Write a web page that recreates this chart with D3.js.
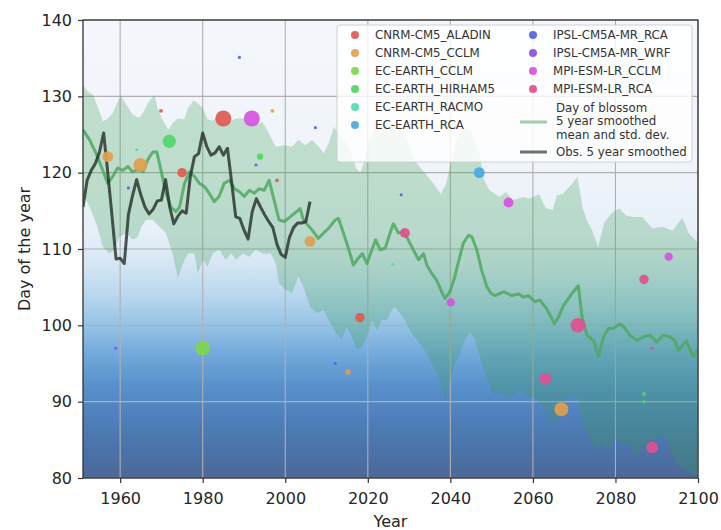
<!DOCTYPE html>
<html>
<head>
<meta charset="utf-8">
<script src="https://cdn.jsdelivr.net/npm/d3@7"></script>
<style>
  body { margin: 0; background: #fff; }
  text { font-family: "DejaVu Sans", sans-serif; }
</style>
</head>
<body>
<script>
// models and their dot colours
const models = ["CNRM-CM5_ALADIN", "CNRM-CM5_CCLM", "EC-EARTH_CCLM", "EC-EARTH_HIRHAM5",
  "EC-EARTH_RACMO", "EC-EARTH_RCA", "IPSL-CM5A-MR_RCA", "IPSL-CM5A-MR_WRF",
  "MPI-ESM-LR_CCLM", "MPI-ESM-LR_RCA"];
const modelColors = ["#df5a50", "#e0a04e", "#7ed64a", "#4fd766", "#52dbb0",
  "#4aa8df", "#5064dc", "#8a50e0", "#d652df", "#e0508f"];

// single model years (year, day, model index, count -> dot size)
const ptYear  = [1957, 1964.9, 1971.9, 1975, 1985, 1991.9, 1993.9, 1992.9, 1998, 1996.9, 1969.9, 1964, 1962, 1958.9, 1980, 1988.9,
  2007.3, 2006, 2012.1, 2015.2, 2018.1, 2026, 2028.1, 2029, 2040.1, 2047, 2054.1, 2063, 2066.9, 2070.9, 2086.9, 2092.9, 2088.9, 2086.9, 2086.9, 2088.8];
const ptDay   = [122.1, 121.0, 124.1, 120.0, 127.1, 127.1, 122.1, 121.0, 119.0, 128.1, 128.1, 123.0, 118.0, 97.0, 97.0, 135.1,
  125.9, 111.0, 95.0, 93.9, 101.0, 108.0, 117.1, 112.1, 103.0, 120.0, 116.1, 93.0, 89.0, 100.0, 106.0, 109.0, 84.0, 91.0, 90.0, 97.0];
const ptModel = [1, 1, 3, 0, 0, 8, 3, 6, 0, 1, 0, 4, 6, 7, 2, 6,
  6, 1, 6, 1, 0, 4, 6, 9, 8, 5, 8, 9, 1, 9, 9, 8, 9, 3, 3, 9];
const ptCount = [12, 20, 18, 9, 26, 26, 4, 1, 1.5, 1.5, 1.5, 1, 1, 1, 22, 1,
  1, 12, 1, 3, 9, 1, 1, 10, 7, 12, 10, 14, 20, 22, 9, 7, 14, 1.5, 1, 1];

// ensemble mean, 5 year smoothed
const meanYear = [1951, 1952.6, 1954.2, 1955.8, 1957, 1958.2, 1959.4, 1960.6, 1961.9, 1963, 1964.3, 1965.5, 1966.7, 1967.9, 1968.9, 1969.9,
  1971.1, 1972.3, 1973.5, 1974.4, 1975.6, 1976.8, 1978, 1979.2, 1980.4, 1981.6, 1982.8, 1984, 1985.2, 1986.5, 1987.7, 1988.9,
  1990.1, 1991.3, 1992.5, 1993.7, 1994.9, 1996.1, 1997.3, 1998.5, 1999.8, 2001.2, 2003.6, 2004.4, 2005.2, 2006.5, 2008, 2009.3,
  2010.5, 2012.1, 2012.9, 2014.1, 2015.3, 2016.5, 2017.7, 2018.7, 2019.8, 2021, 2021.9, 2023, 2024.2, 2025.4, 2026.2, 2027.4,
  2028.6, 2029.8, 2031, 2032.3, 2033.5, 2034.3, 2035.5, 2036.7, 2037.9, 2038.7, 2039.9, 2041.1, 2042.1, 2043.1, 2044.4, 2045.2,
  2046.4, 2047.6, 2048.8, 2049.8, 2050.9, 2052.9, 2054.9, 2056.5, 2057.7, 2058.9, 2060.5, 2061.7, 2063.3, 2065.2, 2066.2, 2067.4,
  2068.6, 2069.8, 2071, 2071.9, 2073.1, 2074.7, 2075.9, 2077.1, 2078.3, 2079.5, 2081.1, 2082.3, 2083.5, 2085.2, 2086.8, 2088.4,
  2090, 2091.6, 2093.2, 2094.4, 2095.2, 2097.2, 2098.8, 2100];
const meanDay = [125.6, 124.3, 122.5, 120.3, 118.6, 119.5, 120.6, 120.3, 120.8, 120.1, 120.4, 120.1, 121.7, 122.7, 122.7, 120.3,
  117.3, 115.5, 114.9, 115.5, 118.6, 120.1, 119.5, 118.6, 118.2, 117.3, 116.2, 116.9, 118.6, 119.0, 117.9, 117.5,
  116.9, 117.7, 117.3, 117.9, 117.7, 119.0, 116.4, 113.8, 113.6, 114.2, 115.3, 113.8, 113.3, 112.5, 111.4, 112.1,
  112.7, 113.8, 114.0, 112.1, 110.1, 107.9, 108.8, 109.4, 108.1, 109.9, 111.2, 109.9, 110.1, 112.1, 113.3, 112.1,
  112.3, 111.2, 109.9, 108.6, 109.4, 107.9, 106.8, 105.9, 104.4, 103.5, 104.4, 106.4, 108.6, 110.7, 111.8, 111.6,
  109.9, 107.2, 105.1, 104.2, 103.9, 104.4, 103.9, 104.1, 103.7, 103.9, 103.1, 103.3, 102.2, 100.2, 101.1, 102.6,
  103.5, 104.4, 105.2, 101.1, 98.7, 98.0, 95.9, 98.5, 99.6, 99.6, 100.2, 99.6, 98.7, 98.0, 98.5, 98.7,
  97.8, 98.7, 98.5, 98.0, 96.7, 98.0, 95.9, 96.8];

// mean + std. dev.
const upperYear = [1951, 1952.2, 1953.4, 1954.6, 1955.8, 1957, 1958.2, 1959.4, 1960.2, 1961.5, 1963.1, 1964.5, 1965.5, 1966.7, 1968.3, 1969.1,
  1970.3, 1971.7, 1972.7, 1974, 1975.5, 1976.4, 1977.8, 1979, 1980, 1981.2, 1982.4, 1983.6, 1985.6, 1988.1, 1990.1, 1992.1,
  1994.5, 1996.1, 1997.7, 1999.8, 2001.6, 2003.2, 2004.8, 2006.5, 2008.1, 2009.3, 2010.5, 2011.8, 2013, 2014.5, 2016, 2017.2,
  2018.2, 2019.2, 2020.5, 2021.5, 2023, 2025, 2027, 2029, 2030.1, 2031.3, 2033.3, 2035.3, 2036.5, 2037.7, 2039, 2040.2,
  2041.4, 2043, 2045, 2047, 2048.2, 2049.5, 2051.9, 2053.5, 2055, 2057.6, 2059.1, 2060.5, 2061.5, 2063, 2064.8, 2065.8,
  2067.2, 2069.6, 2070.8, 2072, 2073, 2074.4, 2075.8, 2077.3, 2079.3, 2080.9, 2082.5, 2084.1, 2086.5, 2089, 2091.4, 2093.8,
  2096.2, 2097.8, 2100];
const upperDay = [131.5, 130.6, 130.2, 128.6, 126.7, 127.1, 127.8, 129.3, 130.1, 128.9, 127.6, 127.2, 127.8, 129.1, 130.2, 128.4,
  126.9, 125.6, 126.5, 127.1, 127.0, 128.4, 129.5, 129.0, 128.5, 127.0, 126.8, 127.3, 126.4, 127.1, 127.1, 126.2,
  126.6, 125.1, 123.4, 123.6, 123.4, 124.3, 123.6, 124.3, 123.4, 122.5, 123.8, 126.0, 125.0, 124.2, 122.5, 120.5,
  120.0, 121.5, 124.5, 125.5, 127.0, 126.0, 126.5, 125.0, 123.4, 121.6, 120.3, 119.0, 118.1, 117.2, 118.6, 121.6,
  124.2, 126.0, 125.5, 122.5, 119.0, 117.7, 116.8, 117.5, 116.4, 116.8, 116.6, 116.9, 117.2, 115.4, 115.1, 117.0,
  117.2, 118.6, 119.5, 115.5, 113.8, 112.4, 110.2, 113.5, 114.8, 115.3, 114.4, 114.2, 114.2, 112.7, 112.9, 112.4,
  114.1, 112.0, 110.8];

// mean - std. dev.
const lowerYear = [1951, 1952.6, 1954.2, 1955.8, 1957.4, 1958.6, 1959.8, 1961.5, 1963.1, 1964.3, 1965.1, 1966.3, 1967.9, 1969.5, 1971.1, 1972.7,
  1974, 1975.2, 1976.4, 1978, 1978.8, 1980, 1981.2, 1982.4, 1984, 1985.6, 1986.9, 1988.1, 1989.7, 1991.3, 1992.9, 1994.5,
  1996.5, 1997.7, 1998.5, 1999.8, 2001.6, 2003.2, 2004.4, 2006, 2007.7, 2009.3, 2010.5, 2012.1, 2013.7, 2014.9, 2016.1, 2017.3,
  2018.5, 2019.8, 2021, 2022.2, 2023.4, 2024.6, 2025.8, 2026.6, 2027.8, 2029, 2030.6, 2031.9, 2033.1, 2034.3, 2035.5, 2036.7,
  2037.9, 2038.7, 2039.9, 2041.1, 2042.3, 2043.5, 2044.8, 2046, 2047.6, 2049.2, 2050.4, 2052.7, 2054.3, 2055.9, 2057.5, 2059.1,
  2060.7, 2062.7, 2064.4, 2065.6, 2066.4, 2068, 2069.6, 2070.8, 2071.6, 2072.8, 2074.4, 2075.6, 2076.9, 2078.1, 2079.3, 2080.5,
  2081.7, 2083.3, 2084.5, 2085.7, 2086.9, 2088.5, 2090.2, 2091.8, 2093, 2094.6, 2096.2, 2097.8, 2100];
const lowerDay = [117.3, 115.5, 113.4, 110.3, 109.4, 109.9, 111.6, 112.1, 111.2, 111.6, 112.9, 113.8, 113.8, 112.9, 112.1, 109.4,
  106.2, 108.1, 109.4, 109.4, 106.8, 108.6, 107.7, 109.4, 109.9, 108.6, 109.4, 108.6, 109.4, 109.0, 109.9, 109.4,
  109.4, 108.1, 105.5, 104.8, 104.2, 106.4, 105.1, 102.4, 101.6, 102.0, 100.7, 99.2, 98.1, 99.8, 98.5, 96.8,
  97.2, 98.5, 100.7, 99.4, 100.7, 100.7, 102.0, 102.4, 101.6, 100.7, 99.0, 98.1, 97.2, 96.3, 95.0, 93.7,
  92.0, 90.2, 92.8, 95.0, 96.3, 98.1, 99.0, 98.1, 95.0, 92.4, 91.0, 91.0, 90.5, 91.2, 91.4, 90.7,
  90.3, 89.4, 87.3, 87.0, 89.0, 90.3, 90.5, 90.7, 88.6, 86.0, 84.7, 83.3, 84.7, 83.3, 84.7, 85.1,
  84.2, 84.7, 82.9, 83.3, 84.2, 85.1, 85.1, 85.5, 84.2, 82.0, 81.2, 80.7, 80.2];

// observations, 5 year smoothed
const obsYear = d3.range(1951, 2007);
const obsDay = [115.5, 119.0, 120.3, 121.2, 122.7, 125.2, 120.0, 114.5, 108.7, 108.8, 108.1, 114.5, 117.0, 119.1, 117.1, 115.5,
  114.6, 115.2, 116.3, 116.4, 119.1, 115.5, 113.3, 114.3, 115.0, 114.7, 119.5, 122.1, 122.5, 125.2, 123.4, 122.3,
  122.6, 123.4, 122.3, 123.2, 118.8, 114.2, 114.0, 112.5, 111.3, 114.9, 116.6, 115.5, 114.5, 113.6, 112.8, 110.6,
  109.3, 108.9, 111.5, 112.8, 113.4, 113.4, 113.6, 116.2];

const xTicks = [1960, 1980, 2000, 2020, 2040, 2060, 2080, 2100];
const yTicks = [80, 90, 100, 110, 120, 130, 140];

let width = 721, height = 530;
let margin = {top: 20, right: 23, bottom: 52, left: 83};

const svg = d3.select("body").append("svg").attr("width", width).attr("height", height);

let x = d3.scaleLinear().domain([1951, 2100]).range([margin.left, width - margin.right]);
let y = d3.scaleLinear().domain([80, 140]).range([height - margin.bottom, margin.top]);
let r = d3.scaleSqrt().domain([0, 26]).range([0, 8]);

// background gradient: white on top, blue at the bottom
const defs = svg.append("defs");
const grad = defs.append("linearGradient").attr("id", "bg")
  .attr("gradientUnits", "userSpaceOnUse")
  .attr("x1", 0).attr("x2", 0).attr("y1", y(140)).attr("y2", y(80));
[[0, "#f4f7fc"], [0.333, "#eff4fa"], [0.467, "#e6eff8"], [0.533, "#d6e6f4"], [0.6, "#b9d7ee"],
 [0.667, "#96c3e6"], [0.733, "#70a8da"], [0.8, "#5890cb"], [0.867, "#4f80bb"], [0.933, "#4b74aa"], [1, "#4c6898"]]
  .forEach(s => grad.append("stop").attr("offset", s[0]).attr("stop-color", s[1]));

defs.append("clipPath").attr("id", "plot").append("rect")
  .attr("x", x(1951)).attr("y", y(140)).attr("width", x(2100) - x(1951)).attr("height", y(80) - y(140));

svg.append("rect").attr("x", x(1951)).attr("y", y(140))
  .attr("width", x(2100) - x(1951)).attr("height", y(80) - y(140))
  .attr("fill", "url(#bg)");

// grid
let grid = svg.append("g").attr("stroke", "#b0b0b0").attr("stroke-width", 1.1);
grid.selectAll(".gx").data(xTicks).enter().append("line")
  .attr("x1", d => x(d)).attr("x2", d => x(d)).attr("y1", y(80)).attr("y2", y(140));
grid.selectAll(".gy").data(yTicks).enter().append("line")
  .attr("x1", x(1951)).attr("x2", x(2100)).attr("y1", d => y(d)).attr("y2", d => y(d));

const plot = svg.append("g").attr("clip-path", "url(#plot)");

// std. dev. band: upper edge forward, lower edge back
const upperPts = upperYear.map((d, i) => [d, upperDay[i]]);
const lowerPts = lowerYear.map((d, i) => [d, lowerDay[i]]).reverse();
const line = d3.line().x(d => x(d[0])).y(d => y(d[1]));
plot.append("path").attr("d", line(upperPts.concat(lowerPts)) + "Z")
  .attr("fill", "#3ca050").attr("fill-opacity", 0.27);

plot.append("path").datum(meanYear.map((d, i) => [d, meanDay[i]]))
  .attr("d", line).attr("fill", "none")
  .attr("stroke", "#4fa862").attr("stroke-width", 3).attr("stroke-opacity", 0.85)
  .attr("stroke-linejoin", "round");

plot.append("path").datum(obsYear.map((d, i) => [d, obsDay[i]]))
  .attr("d", line).attr("fill", "none")
  .attr("stroke", "#1f2a22").attr("stroke-width", 3).attr("stroke-opacity", 0.78)
  .attr("stroke-linejoin", "round");

plot.selectAll("circle").data(ptYear).enter().append("circle")
  .attr("cx", d => x(d))
  .attr("cy", (d, i) => y(ptDay[i]))
  .attr("r", (d, i) => r(ptCount[i]))
  .attr("fill", (d, i) => modelColors[ptModel[i]])
  .attr("fill-opacity", 0.92);

// axes
let xAxis = d3.axisBottom(x).tickValues(xTicks).tickFormat(d3.format("d")).tickSize(5).tickPadding(10).tickSizeOuter(0);
let yAxis = d3.axisLeft(y).tickValues(yTicks).tickSize(5).tickPadding(6).tickSizeOuter(0);
const gx = svg.append("g").attr("transform", `translate(0,${y(80)})`).call(xAxis);
const gy = svg.append("g").attr("transform", `translate(${x(1951)},0)`).call(yAxis);
[gx, gy].forEach(g => {
  g.select(".domain").remove();
  g.selectAll("line").attr("stroke", "#333").attr("stroke-width", 1.2);
  g.selectAll("text").attr("font-family", "DejaVu Sans, sans-serif").attr("font-size", 16).attr("fill", "#262626");
});

// frame
svg.append("rect").attr("x", x(1951)).attr("y", y(140))
  .attr("width", x(2100) - x(1951)).attr("height", y(80) - y(140))
  .attr("fill", "none").attr("stroke", "#333").attr("stroke-width", 1.3);

svg.append("text").attr("x", (x(1951) + x(2100)) / 2).attr("y", 527)
  .attr("text-anchor", "middle").attr("font-size", 16).attr("fill", "#262626").text("Year");
svg.append("text").attr("transform", `translate(30,${(y(80) + y(140)) / 2}) rotate(-90)`)
  .attr("text-anchor", "middle").attr("font-size", 16).attr("fill", "#262626").text("Day of the year");

// legend
const lg = svg.append("g");
lg.append("rect").attr("x", 337).attr("y", 25).attr("width", 355).attr("height", 137).attr("rx", 3)
  .attr("fill", "#fff").attr("fill-opacity", 0.82).attr("stroke", "#d0d0d0");
models.forEach((m, i) => {
  let col = i < 6 ? 0 : 1;
  let row = i < 6 ? i : i - 6;
  let cx = col ? 533 : 355;
  let cy = 35 + row * 18;
  lg.append("circle").attr("cx", cx).attr("cy", cy).attr("r", 4).attr("fill", modelColors[i]).attr("fill-opacity", 0.92);
  lg.append("text").attr("x", cx + 20).attr("y", cy + 4.2).attr("font-size", 11.8).attr("fill", "#333").text(m);
});
lg.append("line").attr("x1", 520).attr("x2", 547).attr("y1", 122).attr("y2", 122)
  .attr("stroke", "#55a868").attr("stroke-width", 3).attr("stroke-opacity", 0.55);
["Day of blossom", "5 year smoothed", "mean and std. dev."].forEach((t, i) => {
  lg.append("text").attr("x", 556).attr("y", 111.5 + i * 13.5).attr("font-size", 11.8).attr("fill", "#333").text(t);
});
lg.append("line").attr("x1", 520).attr("x2", 547).attr("y1", 152).attr("y2", 152)
  .attr("stroke", "#1f2a22").attr("stroke-width", 3).attr("stroke-opacity", 0.65);
lg.append("text").attr("x", 556).attr("y", 156.2).attr("font-size", 11.8).attr("fill", "#333").text("Obs. 5 year smoothed");
</script>
</body>
</html>
